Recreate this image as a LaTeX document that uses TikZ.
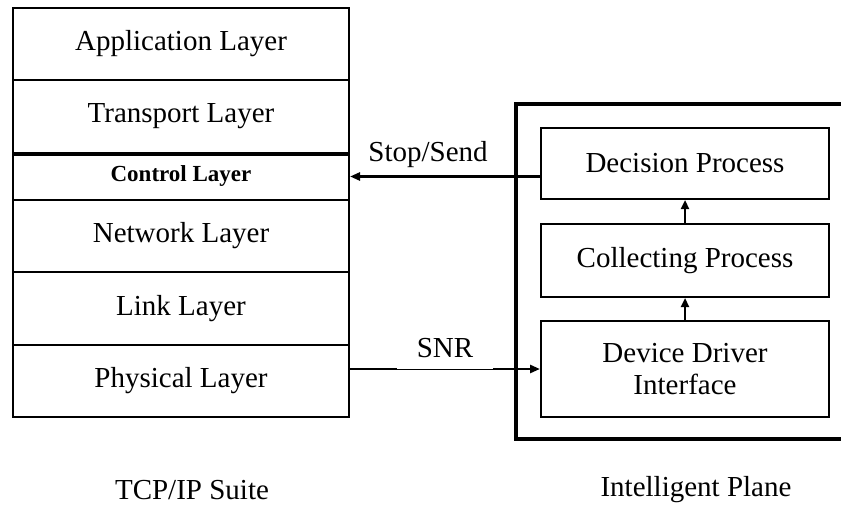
\documentclass[tikz,border=0pt]{standalone}
\usepackage{fontspec}
\setmainfont{Liberation Serif}
\usetikzlibrary{arrows.meta}
\begin{document}
\begin{tikzpicture}[x=1pt,y=-1pt,
  txt/.style={font=\fontsize{29}{32}\selectfont, align=center},
  layer/.style={txt, draw, line width=2pt, minimum width=336pt, inner sep=0pt},
  proc/.style={txt, draw, line width=2pt, minimum width=288pt, inner sep=0pt},
  flow/.style={line width=2.6pt, -{Triangle[length=10pt,width=8pt]}},
  up/.style={line width=2.2pt, -{Triangle[length=9pt,width=8pt]}}]
\useasboundingbox (0,0) rectangle (841,508);
\clip (0,0) rectangle (841,508);

% TCP/IP stack
\node[layer, minimum height=72pt] (app) at (181,44) {Application Layer};
\node[layer, minimum height=73pt] (trn) at (181,116.5) {Transport Layer};
\node[layer, minimum height=47pt, font=\fontsize{23}{26}\selectfont\bfseries] (ctl) at (181,176.5) {Control Layer};
\node[layer, minimum height=72pt] (net) at (181,236) {Network Layer};
\node[layer, minimum height=73pt] (lnk) at (181,308.5) {Link Layer};
\node[layer, minimum height=72pt] (phy) at (181,381) {Physical Layer};
\draw[line width=3.2pt] (trn.south west) -- (trn.south east);

% Intelligent plane (open towards the right)
\draw[line width=4pt] (860,104) -- (516,104) -- (516,439) -- (860,439);
\node[proc, minimum height=71pt] (dec) at (685,163.5) {Decision Process};
\node[proc, minimum height=73pt] (col) at (685,260.5) {Collecting Process};
\node[proc, minimum height=96pt] (dev) at (685,369) {Device Driver\\Interface};

\draw[up] (dev.north) -- (col.south);
\draw[up] (col.north) -- (dec.south);

% Connectors between the two parts
\draw[flow] (dec.west |- ctl.east) -- (ctl.east);
\node[txt] (stop) at (428,155) {Stop/Send};
\draw[flow] (phy.east |- dev.west) -- (dev.west);
\node[txt, fill=white, anchor=south, minimum width=96pt, minimum height=42pt, inner sep=0pt] (snr) at (445,369) {SNR};

% Captions
\node[txt] (cap1) at (192,490) {TCP/IP Suite};
\node[txt] (cap2) at (696,490) {Intelligent Plane};
\end{tikzpicture}
\end{document}
